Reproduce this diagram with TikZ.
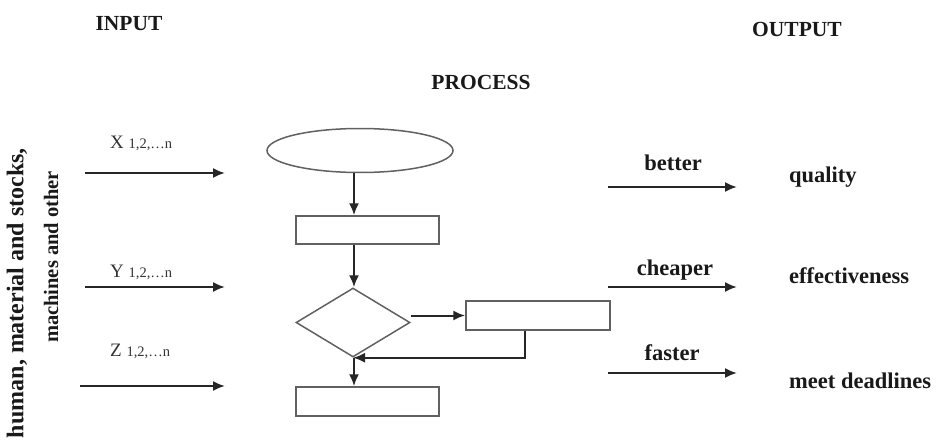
\documentclass[tikz,border=0pt]{standalone}
\usepackage{fontspec}
\setmainfont{Liberation Serif}
\usetikzlibrary{arrows.meta,shapes.geometric}
\newcommand\mysubsz{\fontsize{14.5}{15}\selectfont}
\begin{document}
\begin{tikzpicture}[x=1pt,y=-1pt,
  arr/.style={line width=2pt, draw=black!85, -{Latex[length=12pt,width=10pt]}},
  shp/.style={draw=black!62, line width=1.5pt, fill=white, inner sep=0pt},
  hdr/.style={font=\fontsize{21.5}{24}\selectfont\bfseries, inner sep=0pt, text=black!90},
  lbl/.style={font=\fontsize{22.5}{24}\selectfont\bfseries, inner sep=0pt, text=black!90},
  var/.style={font=\fontsize{19}{20}\selectfont, inner sep=0pt, text=black!80},
  ]
\fill[white] (0,0) rectangle (936,441);
\useasboundingbox (0,0) rectangle (936,441);

% headings
\node[hdr, anchor=base] (input) at (129,31) {INPUT};
\node[hdr, anchor=base] (process) at (481,90) {PROCESS};
\node[hdr, anchor=base] (output) at (797,37) {OUTPUT};

% rotated resources text
\node[lbl, rotate=90, font=\fontsize{24}{26}\selectfont\bfseries] (res1) at (17,293) {human, material and stocks,};
\node[lbl, rotate=90, font=\fontsize{20.5}{22}\selectfont\bfseries] (res2) at (51,257) {machines and other};

% input labels
\node[var, anchor=base west] (xl) at (110,148) {X {\mysubsz 1,2,\ldots n}};
\node[var, anchor=base west] (yl) at (110,277) {Y {\mysubsz 1,2,\ldots n}};
\node[var, anchor=base west] (zl) at (110,356) {Z {\mysubsz 1,2,\ldots n}};

% input arrows
\coordinate (xs) at (85,173);  \coordinate (xe) at (225,173);
\coordinate (ys) at (85,287);  \coordinate (ye) at (225,287);
\coordinate (zs) at (80,386);  \coordinate (ze) at (225,386);
\draw[arr] (xs) -- (xe);
\draw[arr] (ys) -- (ye);
\draw[arr] (zs) -- (ze);

% flowchart
\node[shp, ellipse, minimum width=186pt, minimum height=44pt] (ell) at (360,150.5) {};
\node[shp, rectangle, minimum width=143pt, minimum height=28pt] (r1) at (367.5,230) {};
\node[shp, diamond, aspect=1.65, minimum width=114pt, minimum height=69pt] (dia) at (353,322.5) {};
\node[shp, rectangle, minimum width=144pt, minimum height=29pt] (r2) at (538,315.5) {};
\node[shp, rectangle, minimum width=143pt, minimum height=29pt] (r3) at (367.5,401.5) {};
\coordinate (cx) at (354,0);
\coordinate (ret) at (525,0);
\draw[arr] (ell.south -| cx) -- (r1.north -| cx);
\draw[arr] (r1.south -| cx) -- (dia.north -| cx);
\draw[arr] (dia.east |- r2.west) -- (r2.west);
\draw[arr] (r2.south -| ret) |- (dia.south);
\draw[arr] (dia.south -| cx) -- (r3.north -| cx);

% output arrows and labels
\coordinate (bs) at (608,187); \coordinate (be) at (737,187);
\coordinate (cs) at (608,287); \coordinate (ce) at (737,287);
\coordinate (fs) at (608,373); \coordinate (fe) at (737,373);
\draw[arr] (bs) -- (be);
\draw[arr] (cs) -- (ce);
\draw[arr] (fs) -- (fe);
\node[lbl, anchor=base] (better) at (673,170) {better};
\node[lbl, anchor=base] (cheaper) at (675,275) {cheaper};
\node[lbl, anchor=base] (faster) at (672,360) {faster};
\node[lbl, anchor=base west] (quality) at (789,182) {quality};
\node[lbl, anchor=base west] (effect) at (789,283) {effectiveness};
\node[lbl, anchor=base west] (meet) at (789,388) {meet deadlines};
\end{tikzpicture}
\end{document}
